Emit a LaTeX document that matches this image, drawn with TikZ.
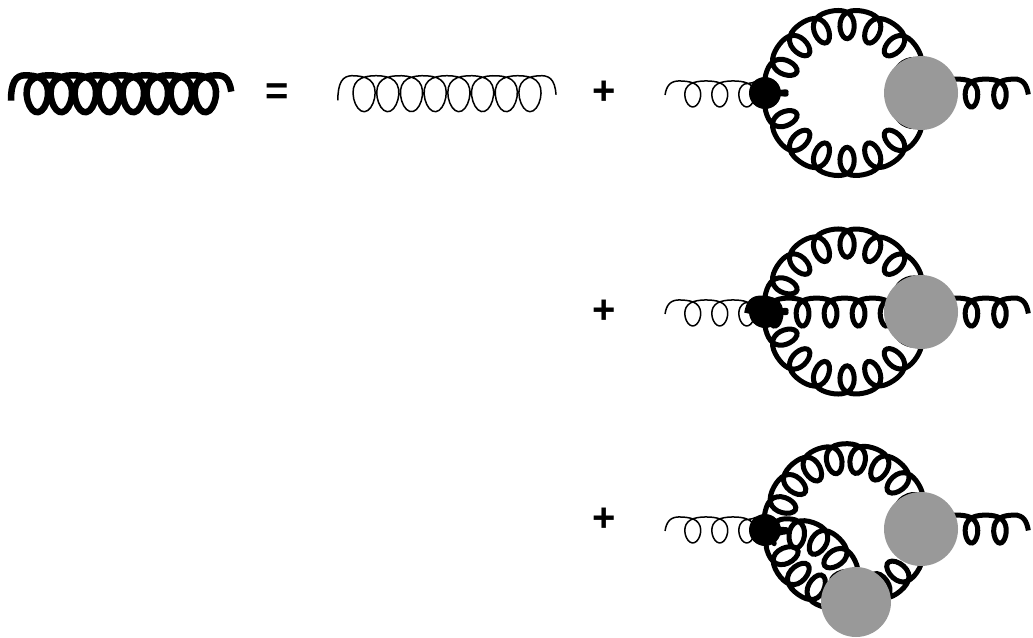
\documentclass[tikz,border=0pt]{standalone}
\usepackage{fontspec}
\setmainfont{Liberation Sans}
\usetikzlibrary{decorations,backgrounds,calc}

\pgfkeys{/pgf/decoration/phase/.store in=\gluonphase,/pgf/decoration/phase=-125}
\pgfdeclaredecoration{gluon}{draw}{
  \state{draw}[width=1pt]{
    \pgfmathsetmacro{\gluont}{\gluonphase+360*(\pgfdecoratedcompleteddistance/\pgfdecorationsegmentlength)}
    % the two end arches are narrower than the rest
    \pgfmathsetmacro{\gluonw}{ifthenelse(or(\gluont<0,(\pgfdecoratedpathlength-\pgfdecoratedcompleteddistance)/\pgfdecorationsegmentlength*360+\gluonphase<0),0.45,1)}
    \pgfmathsetmacro{\gluonx}{\gluonw*\pgfdecorationsegmentaspect*\pgfdecorationsegmentamplitude*sin(\gluont)}
    \pgfmathsetmacro{\gluony}{\pgfdecorationsegmentamplitude*(cos(\gluont)-0.15*cos(2*\gluont))}
    \ifdim\pgfdecoratedcompleteddistance<1pt
      \pgfpathmoveto{\pgfqpoint{\gluonx pt}{\gluony pt}}
    \else
      \pgfpathlineto{\pgfqpoint{\gluonx pt}{\gluony pt}}
    \fi
  }
  \state{final}{}
}

\tikzset{
  thingluon/.style={decorate,line width=1.5pt,decoration={gluon,amplitude=18pt,segment length=23.7pt,aspect=0.92}},
  thickgluon/.style={decorate,line width=6.5pt,decoration={gluon,amplitude=18.5pt,segment length=24pt,aspect=0.88}},
  thinleg/.style={decorate,line width=1.5pt,decoration={gluon,phase=-110,amplitude=13pt,segment length=27pt,aspect=1.08}},
  thickleg/.style={decorate,line width=5pt,decoration={gluon,phase=-110,amplitude=14pt,segment length=28.5pt,aspect=0.9}},
  ringgluon/.style={decorate,line width=5pt,line cap=round,decoration={gluon,phase=-135,amplitude=14.5pt,segment length=#1,aspect=0.9}},
  ringgluon/.default=27.9pt,
  flipped/.style={decoration={transform={yscale=-1}}},
  vertexdot/.style={circle,fill=black,minimum size=32pt,inner sep=0pt},
  blob/.style={circle,fill=black!40,minimum size=74pt,inner sep=0pt},
  sign/.style={font=\fontsize{40}{40}\selectfont\bfseries,inner sep=0pt}
}

\begin{document}
\begin{tikzpicture}[x=1pt,y=1pt,line join=round]
      \useasboundingbox (0,0) rectangle (1033,-637);
      % first line
      \coordinate (a0) at (17,-91);
      \coordinate (a1) at (225.7,-91);
      \coordinate (b0) at (344,-91);
      \coordinate (b1) at (550,-91);
      \node[sign] (eq) at (277,-94) {=};
      \node[sign] (p1) at (604,-93) {+};
      \node[sign] (p2) at (604,-312) {+};
      \node[sign] (p3) at (604,-520) {+};
      \draw[thickgluon] (a0) -- (a1);
      \draw[thingluon] (b0) -- (b1);
      % three loops
      \node[vertexdot] (v1) at (765,-93) {};
      \node[blob] (g1) at (921,-93) {};
      \node[vertexdot] (v2) at (765,-312) {};
      \node[blob] (g2) at (921,-312) {};
      \node[vertexdot] (v3) at (765,-530) {};
      \node[blob] (g3) at (921,-529) {};
      \node[blob,minimum size=70pt] (g4) at (856,-602) {};
      \coordinate (c1) at (847,-93);
      \coordinate (c2) at (847,-311.5);
      \coordinate (c3) at (847,-527);
      \coordinate (c4) at (790,-590);
      \coordinate (i1) at (671,-92);
      \coordinate (i2) at (671,-311);
      \coordinate (i3) at (671,-528);
      \coordinate (o1) at (920,-91);
      \coordinate (o2) at (920,-310);
      \coordinate (o3) at (920,-527);
      \coordinate (e1) at (1024.5,-91);
      \coordinate (e2) at (1024.5,-310);
      \coordinate (e3) at (1024.5,-527);
      \coordinate (m2) at (752,-310);
      \begin{scope}[on background layer]
      \draw[thinleg] (i1) -- (i1 -| v1);
      \draw[thinleg] (i2) -- (i2 -| v2);
      \draw[thinleg] (i3) -- (i3 -| v3);
      \draw[thickleg] (o1) -- (e1);
      \draw[thickleg] (o2) -- (e2);
      \draw[thickleg] (o3) -- (e3);
      \draw[thickleg,decoration={segment length=28pt}] (m2) -- (m2 -| g2);
      \draw[ringgluon] ($(c1)+(177.2:71)$) arc[start angle=177.2,end angle=5,radius=71];
      \draw[ringgluon,flipped] ($(c1)+(182.8:71)$) arc[start angle=182.8,end angle=355,radius=71];
      \draw[ringgluon] ($(c2)+(177.2:71)$) arc[start angle=177.2,end angle=5,radius=71];
      \draw[ringgluon,flipped] ($(c2)+(182.8:71)$) arc[start angle=182.8,end angle=355,radius=71];
      \draw[ringgluon=24.8pt] ($(c3)+(178.5:71)$) arc[start angle=178.5,end angle=5,radius=71];
      \draw[ringgluon=23.5pt,flipped] ($(c3)+(188.4:71)$) arc[start angle=188.4,end angle=350,radius=71];
      \draw[ringgluon=24.7pt] ($(c4)+(104:59)$) arc[start angle=104,end angle=-5,radius=59];
      \end{scope}
\end{tikzpicture}
\end{document}
